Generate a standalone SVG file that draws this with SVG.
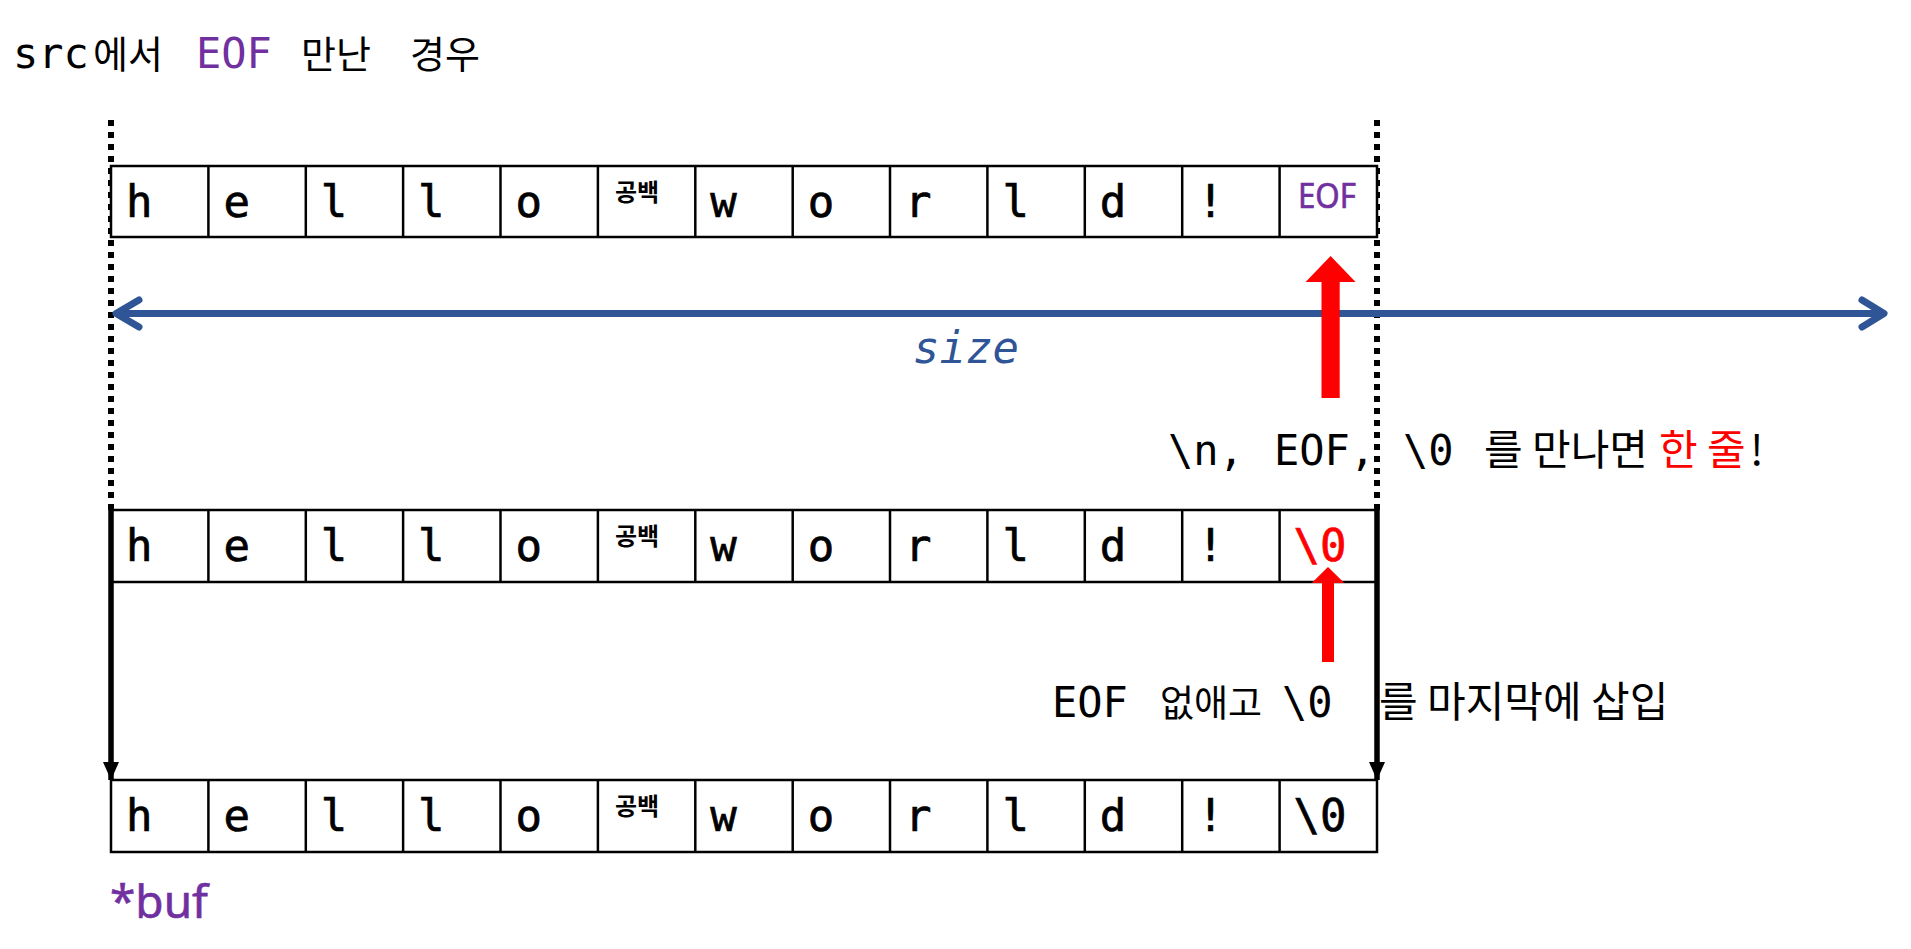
<svg xmlns="http://www.w3.org/2000/svg" width="1911" height="949" viewBox="0 0 1911 949">
<defs>
<style>
.mono{font-family:"DejaVu Sans Mono","Liberation Mono","Noto Sans CJK KR",monospace;}
.kr{font-family:"Noto Sans CJK KR","Noto Sans",sans-serif;}
.sans{font-family:"Noto Sans","Noto Sans CJK KR",sans-serif;}
.cellbox{fill:#ffffff;stroke:#000000;stroke-width:2.5;}
.div{stroke:#000000;stroke-width:2.5;}
.ch{font-family:"DejaVu Sans Mono","Liberation Mono",monospace;font-size:44px;fill:#000;stroke:#000;stroke-width:0.7;}
.sp{font-family:"Noto Sans CJK KR",sans-serif;font-size:24px;font-weight:bold;fill:#000;}
.purple{fill:#7030A0;}
.red{fill:#FF0000;}
.ch.red{stroke:#FF0000;}
.dot{stroke:#000;stroke-width:6;stroke-dasharray:6 6;fill:none;}
.blk{stroke:#000;stroke-width:5.5;fill:none;}
.blue{stroke:#2F5597;stroke-width:7;fill:none;stroke-linecap:round;stroke-linejoin:round;}
</style>
<marker id="blkhead" viewBox="0 0 18 16" refX="18" refY="8" markerWidth="18" markerHeight="16" markerUnits="userSpaceOnUse" orient="auto">
<path d="M0 0 L18 8 L0 16 Z" fill="#000"/>
</marker>
</defs>
<rect x="0" y="0" width="1911" height="949" fill="#ffffff"/>

<g id="title">
<text y="68" font-size="42"><tspan class="mono" x="13">src</tspan><tspan class="kr" x="93" font-size="38">에서 </tspan><tspan class="mono purple" x="196">EOF</tspan><tspan class="kr" x="301" font-size="38">만난 </tspan><tspan class="kr" x="410" font-size="38">경우</tspan></text>
</g>

<g id="guides">
<line class="dot" x1="111" y1="120" x2="111" y2="510"/>
<line class="dot" x1="1377" y1="120" x2="1377" y2="510"/>
</g>

<g id="row-src">
<rect class="cellbox" x="111" y="166" width="1266" height="71"/>
<g class="div">
<line x1="208.4" y1="166" x2="208.4" y2="237"/><line x1="305.8" y1="166" x2="305.8" y2="237"/><line x1="403.1" y1="166" x2="403.1" y2="237"/><line x1="500.5" y1="166" x2="500.5" y2="237"/><line x1="597.9" y1="166" x2="597.9" y2="237"/><line x1="695.3" y1="166" x2="695.3" y2="237"/><line x1="792.7" y1="166" x2="792.7" y2="237"/><line x1="890" y1="166" x2="890" y2="237"/><line x1="987.4" y1="166" x2="987.4" y2="237"/><line x1="1084.8" y1="166" x2="1084.8" y2="237"/><line x1="1182.2" y1="166" x2="1182.2" y2="237"/><line x1="1279.6" y1="166" x2="1279.6" y2="237"/>
</g>
<text class="ch" x="126" y="217">h</text>
<text class="ch" x="223.4" y="217">e</text>
<text class="ch" x="320.8" y="217">l</text>
<text class="ch" x="418.1" y="217">l</text>
<text class="ch" x="515.5" y="217">o</text>
<text class="sp" x="615" y="201">공백</text>
<text class="ch" x="710.3" y="217">w</text>
<text class="ch" x="807.7" y="217">o</text>
<text class="ch" x="905" y="217">r</text>
<text class="ch" x="1002.4" y="217">l</text>
<text class="ch" x="1099.8" y="217">d</text>
<text class="ch" x="1197.2" y="217">!</text>
<text class="sans purple" x="1298" y="208" font-size="35" stroke="#7030A0" stroke-width="0.7" textLength="58" lengthAdjust="spacingAndGlyphs">EOF</text>
</g>

<g id="row-line">
<rect class="cellbox" x="111" y="510" width="1266" height="72"/>
<g class="div">
<line x1="208.4" y1="510" x2="208.4" y2="582"/><line x1="305.8" y1="510" x2="305.8" y2="582"/><line x1="403.1" y1="510" x2="403.1" y2="582"/><line x1="500.5" y1="510" x2="500.5" y2="582"/><line x1="597.9" y1="510" x2="597.9" y2="582"/><line x1="695.3" y1="510" x2="695.3" y2="582"/><line x1="792.7" y1="510" x2="792.7" y2="582"/><line x1="890" y1="510" x2="890" y2="582"/><line x1="987.4" y1="510" x2="987.4" y2="582"/><line x1="1084.8" y1="510" x2="1084.8" y2="582"/><line x1="1182.2" y1="510" x2="1182.2" y2="582"/><line x1="1279.6" y1="510" x2="1279.6" y2="582"/>
</g>
<text class="ch" x="126" y="561">h</text>
<text class="ch" x="223.4" y="561">e</text>
<text class="ch" x="320.8" y="561">l</text>
<text class="ch" x="418.1" y="561">l</text>
<text class="ch" x="515.5" y="561">o</text>
<text class="sp" x="615" y="545">공백</text>
<text class="ch" x="710.3" y="561">w</text>
<text class="ch" x="807.7" y="561">o</text>
<text class="ch" x="905" y="561">r</text>
<text class="ch" x="1002.4" y="561">l</text>
<text class="ch" x="1099.8" y="561">d</text>
<text class="ch" x="1197.2" y="561">!</text>
<text class="ch red" x="1293.6" y="561">\0</text>
</g>

<g id="row-buf">
<rect class="cellbox" x="111" y="780" width="1266" height="72"/>
<g class="div">
<line x1="208.4" y1="780" x2="208.4" y2="852"/><line x1="305.8" y1="780" x2="305.8" y2="852"/><line x1="403.1" y1="780" x2="403.1" y2="852"/><line x1="500.5" y1="780" x2="500.5" y2="852"/><line x1="597.9" y1="780" x2="597.9" y2="852"/><line x1="695.3" y1="780" x2="695.3" y2="852"/><line x1="792.7" y1="780" x2="792.7" y2="852"/><line x1="890" y1="780" x2="890" y2="852"/><line x1="987.4" y1="780" x2="987.4" y2="852"/><line x1="1084.8" y1="780" x2="1084.8" y2="852"/><line x1="1182.2" y1="780" x2="1182.2" y2="852"/><line x1="1279.6" y1="780" x2="1279.6" y2="852"/>
</g>
<text class="ch" x="126" y="831">h</text>
<text class="ch" x="223.4" y="831">e</text>
<text class="ch" x="320.8" y="831">l</text>
<text class="ch" x="418.1" y="831">l</text>
<text class="ch" x="515.5" y="831">o</text>
<text class="sp" x="615" y="815">공백</text>
<text class="ch" x="710.3" y="831">w</text>
<text class="ch" x="807.7" y="831">o</text>
<text class="ch" x="905" y="831">r</text>
<text class="ch" x="1002.4" y="831">l</text>
<text class="ch" x="1099.8" y="831">d</text>
<text class="ch" x="1197.2" y="831">!</text>
<text class="ch" x="1293.6" y="831">\0</text>
</g>

<g id="connectors">
<line class="blue" x1="118" y1="313.5" x2="1882" y2="313.5"/>
<path class="blue" d="M139 300 L116 313.5 L139 327"/>
<path class="blue" d="M1862 300 L1884 313.5 L1862 327"/>
<line class="blk" x1="111" y1="510" x2="111" y2="780" marker-end="url(#blkhead)"/>
<line class="blk" x1="1377" y1="510" x2="1377" y2="780" marker-end="url(#blkhead)"/>
<polygon fill="#FF0000" points="1321.5,398 1339.7,398 1339.7,282 1355.6,282 1330.6,256 1305.6,282 1321.5,282"/>
<polygon fill="#FF0000" points="1322,662 1334,662 1334,583 1344.3,583 1328,567 1311.7,583 1322,583"/>
</g>

<g id="label-size">
<text class="mono" x="913" y="363" font-size="44" font-style="italic" fill="#2F5597">size</text>
</g>

<g id="label-rule">
<text y="465" font-size="42"><tspan class="mono" x="1168">\n,</tspan><tspan class="mono" x="1274">EOF,</tspan><tspan class="mono" x="1403">\0</tspan><tspan class="kr" x="1484" font-size="42">를 만나면</tspan><tspan class="kr red" x="1659" font-size="42">한 줄</tspan><tspan class="kr" x="1750" font-size="42">!</tspan></text>
</g>

<g id="label-insert">
<text y="717" font-size="42"><tspan class="mono" x="1052">EOF</tspan><tspan class="kr" x="1160" font-size="37">없애고</tspan><tspan class="mono" x="1282">\0</tspan><tspan class="kr" x="1379" font-size="42">를 마지막에 삽입</tspan></text>
</g>

<g id="label-buf">
<text class="sans purple" x="110" y="918" font-size="46" stroke="#7030A0" stroke-width="0.6">*buf</text>
</g>
</svg>
